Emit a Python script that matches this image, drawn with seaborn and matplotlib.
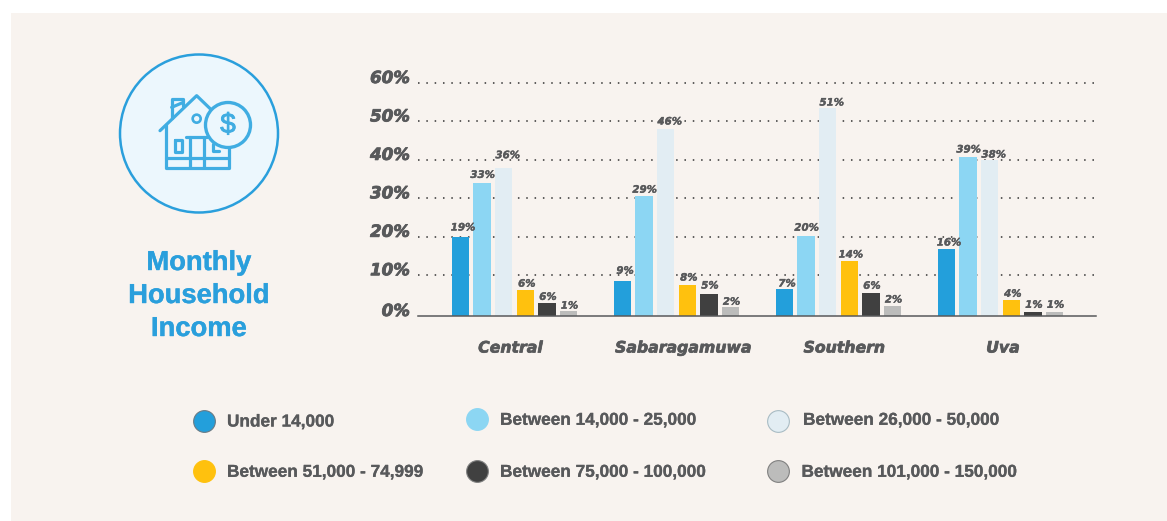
import matplotlib
matplotlib.use("Agg")
import matplotlib.pyplot as plt
import matplotlib.patheffects as pe
from matplotlib.patches import Circle, Rectangle
from matplotlib.transforms import ScaledTranslation
import pandas as pd
import seaborn as sns

# ---------- data ----------
regions = ["Central", "Sabaragamuwa", "Southern", "Uva"]
incomes = ["Under 14,000", "Between 14,000 - 25,000", "Between 26,000 - 50,000",
           "Between 51,000 - 74,999", "Between 75,000 - 100,000", "Between 101,000 - 150,000"]
# drawn bar heights, as read against the axis
under_14 = [20.4, 9.0, 7.0, 17.3]
from_14_to_25 = [34.2, 30.9, 20.6, 41.0]
from_26_to_50 = [38.1, 48.2, 53.6, 40.2]
from_51_to_75 = [6.7, 8.0, 14.2, 4.1]
from_75_to_100 = [3.3, 5.7, 5.9, 1.0]
from_101_to_150 = [1.3, 2.3, 2.6, 1.0]
# printed labels
printed_under_14 = ["19%", "9%", "7%", "16%"]
printed_14_to_25 = ["33%", "29%", "20%", "39%"]
printed_26_to_50 = ["36%", "46%", "51%", "38%"]
printed_51_to_75 = ["6%", "8%", "14%", "4%"]
printed_75_to_100 = ["6%", "5%", "6%", "1%"]
printed_101_to_150 = ["1%", "2%", "2%", "1%"]
y_tick_labels = ["0%", "10%", "20%", "30%", "40%", "50%", "60%"]
y_tick_values = [0, 10.5, 20.4, 30.3, 40.2, 50.1, 60]

series = [under_14, from_14_to_25, from_26_to_50, from_51_to_75, from_75_to_100, from_101_to_150]
printed = [printed_under_14, printed_14_to_25, printed_26_to_50,
           printed_51_to_75, printed_75_to_100, printed_101_to_150]

# ---------- style ----------
PANEL = "#f8f3ef"
TEXT = "#58595b"
BLUE = "#2a9fdc"
ICON = "#40ade2"
colors = ["#239fdb", "#8cd6f3", "#e2edf3", "#ffc10e", "#404040", "#bcbcbb"]
legend_edges = ["#6b7b85", "#8cd6f3", "#a9bcc4", "#ffc10e", "#808080", "#808080"]
W, H = 1167, 521
# px distance of each value label's centre above its bar, per series / region
label_gaps = [[9.3, 10.3, 5.3, 6.3], [8.3, 6.3, 8.3, 7.3], [12.8, 7.3, 5.3, 5.3],
              [6.3, 7.3, 6.3, 6.3], [6.3, 8.3, 7.3, 7.3], [5.3, 5.3, 6.3, 7.3]]
label_dx = [2.5, 0.5, 4, 1.5, 1, 1]
region_dx = [-4, 7, 6, 2.5]


def heavy(width, color):
    return [pe.withStroke(linewidth=width, foreground=color)]


sns.set_theme(style="white")
plt.rcParams["font.family"] = ["DejaVu Sans"]

fig = plt.figure(figsize=(W / 100, H / 100), dpi=100, facecolor="white")

# overlay in pixel coordinates: panel, icon, title, legend
bg = fig.add_axes([0, 0, 1, 1], zorder=0)
bg.set_xlim(0, W)
bg.set_ylim(H, 0)
bg.axis("off")
bg.add_patch(Rectangle((11, 13), W, H, fc=PANEL, ec="none"))

bg.add_patch(Circle((199, 133.5), 79, fc="#ecf7fd", ec=BLUE, lw=1.8))


def z(x, y):
    return 100 + x / 3, 30 + y / 3


def stroke(*pts):
    xs, ys = zip(*[z(*p) for p in pts])
    bg.plot(xs, ys, color=ICON, lw=2.3, solid_capstyle="round", solid_joinstyle="round", zorder=3)


stroke((180, 302), (290, 197), (345, 250))
stroke((197, 285), (197, 415), (388, 415), (388, 340))
stroke((197, 385), (388, 385))
stroke((258, 320), (320, 320))
stroke((270, 320), (270, 412))
stroke((313, 320), (313, 412))
stroke((225, 330), (245, 330), (245, 365), (225, 365), (225, 330))
stroke((340, 342), (340, 362), (358, 362))
stroke((215, 265), (215, 207), (250, 207), (250, 228))
stroke((215, 232), (250, 217))
bg.add_patch(Circle(z(290, 266), 4, fc="none", ec=ICON, lw=1.9, zorder=3))
bg.add_patch(Circle(z(384, 285), 22.5, fc="#ecf7fd", ec=ICON, lw=2.4, zorder=4))
bg.text(*z(384, 287), "$", color=ICON, fontsize=20, ha="center", va="center",
        family="Liberation Sans", zorder=5, path_effects=heavy(0.7, ICON))

for y, line in zip([263, 296, 329], ["Monthly", "Household", "Income"]):
    bg.text(199, y, line, color=BLUE, fontsize=19.7, fontweight="bold",
            family="Liberation Sans", ha="center", va="center", path_effects=heavy(0.3, BLUE))

marker_xy = [(203.7, 420.7), (476.7, 418.7), (778.3, 420.7),
             (203.7, 471), (476.7, 471), (778, 471)]
text_xy = [(227, 422), (500, 420.3), (803, 420.3),
           (227, 472.3), (500, 472.3), (801.5, 472.3)]
for label, col, edge, (mx, my), (tx, ty) in zip(incomes, colors, legend_edges, marker_xy, text_xy):
    bg.scatter([mx], [my], s=245, c=col, edgecolors=edge, linewidths=0.8, zorder=3)
    bg.text(tx, ty, label, color=TEXT, fontsize=12.4, fontweight="bold",
            family="Liberation Sans", ha="left", va="center", path_effects=heavy(0.2, TEXT))

# chart axes
L, R, BASE = 418, 1096, 316
PX_PER_UNIT = (316 - 83) / 60
YMAX = 62
top_px = BASE - YMAX * PX_PER_UNIT
ax = fig.add_axes([L / W, (H - BASE) / H, (R - L) / W, (BASE - top_px) / H], zorder=1)
ax.patch.set_alpha(0)

df = pd.DataFrame([
    {"region": r, "income": inc, "value": vals[i]}
    for inc, vals in zip(incomes, series)
    for i, r in enumerate(regions)
])
sns.barplot(data=df, x="region", y="value", hue="income", order=regions, hue_order=incomes,
            palette=colors, width=0.8, gap=0.2, saturation=1, legend=False, ax=ax, zorder=3,
            linewidth=0, edgecolor="none")

GROUP_0, PITCH = 514.5, 162
ax.set_xlim((L - GROUP_0) / PITCH, (R - GROUP_0) / PITCH)
ax.set_ylim(0, YMAX)
ax.set_xlabel("")
ax.set_ylabel("")
for s in ["top", "left", "right"]:
    ax.spines[s].set_visible(False)
ax.spines["bottom"].set_color(TEXT)
ax.spines["bottom"].set_linewidth(1.1)
ax.spines["bottom"].set_zorder(4)

ax.set_yticks(y_tick_values, y_tick_labels)
ax.set_axisbelow(True)
ax.grid(False)
for v in y_tick_values[1:]:
    ax.axhline(v, color="#333333", lw=1.1, ls=(0, (1.0, 4.45)), zorder=1)

ax.tick_params(axis="y", length=0, pad=5.8)
ax.tick_params(axis="x", length=0, pad=0)
for lab in ax.get_yticklabels():
    lab.set(fontsize=12, fontweight="bold", fontstyle="oblique", color=TEXT, va="center", ha="right",
            path_effects=heavy(0.6, TEXT))
    lab.set_transform(lab.get_transform() + ScaledTranslation(0, 5 / 100, fig.dpi_scale_trans))
ax.set_xticks(range(len(regions)), regions)
for lab, dx in zip(ax.get_xticklabels(), region_dx):
    lab.set(fontsize=11.3, fontweight="bold", fontstyle="oblique", color=TEXT, va="center", ha="center",
            path_effects=heavy(0.5, TEXT))
    lab.set_transform(lab.get_transform() + ScaledTranslation(dx / 100, -32 / 100, fig.dpi_scale_trans))

# value labels above the bars
for c, texts, gaps, dx in zip(ax.containers, printed, label_gaps, label_dx):
    for bar, t, gap in zip(c, texts, gaps):
        ax.annotate(t, (bar.get_x() + bar.get_width() / 2, bar.get_height()),
                    xytext=(dx * 0.72, gap * 0.72), textcoords="offset points",
                    ha="center", va="center", fontsize=7.4, fontweight="bold",
                    fontstyle="oblique", color=TEXT, zorder=5, path_effects=heavy(0.25, TEXT))

fig.savefig("out.png", dpi=100, facecolor="white")
